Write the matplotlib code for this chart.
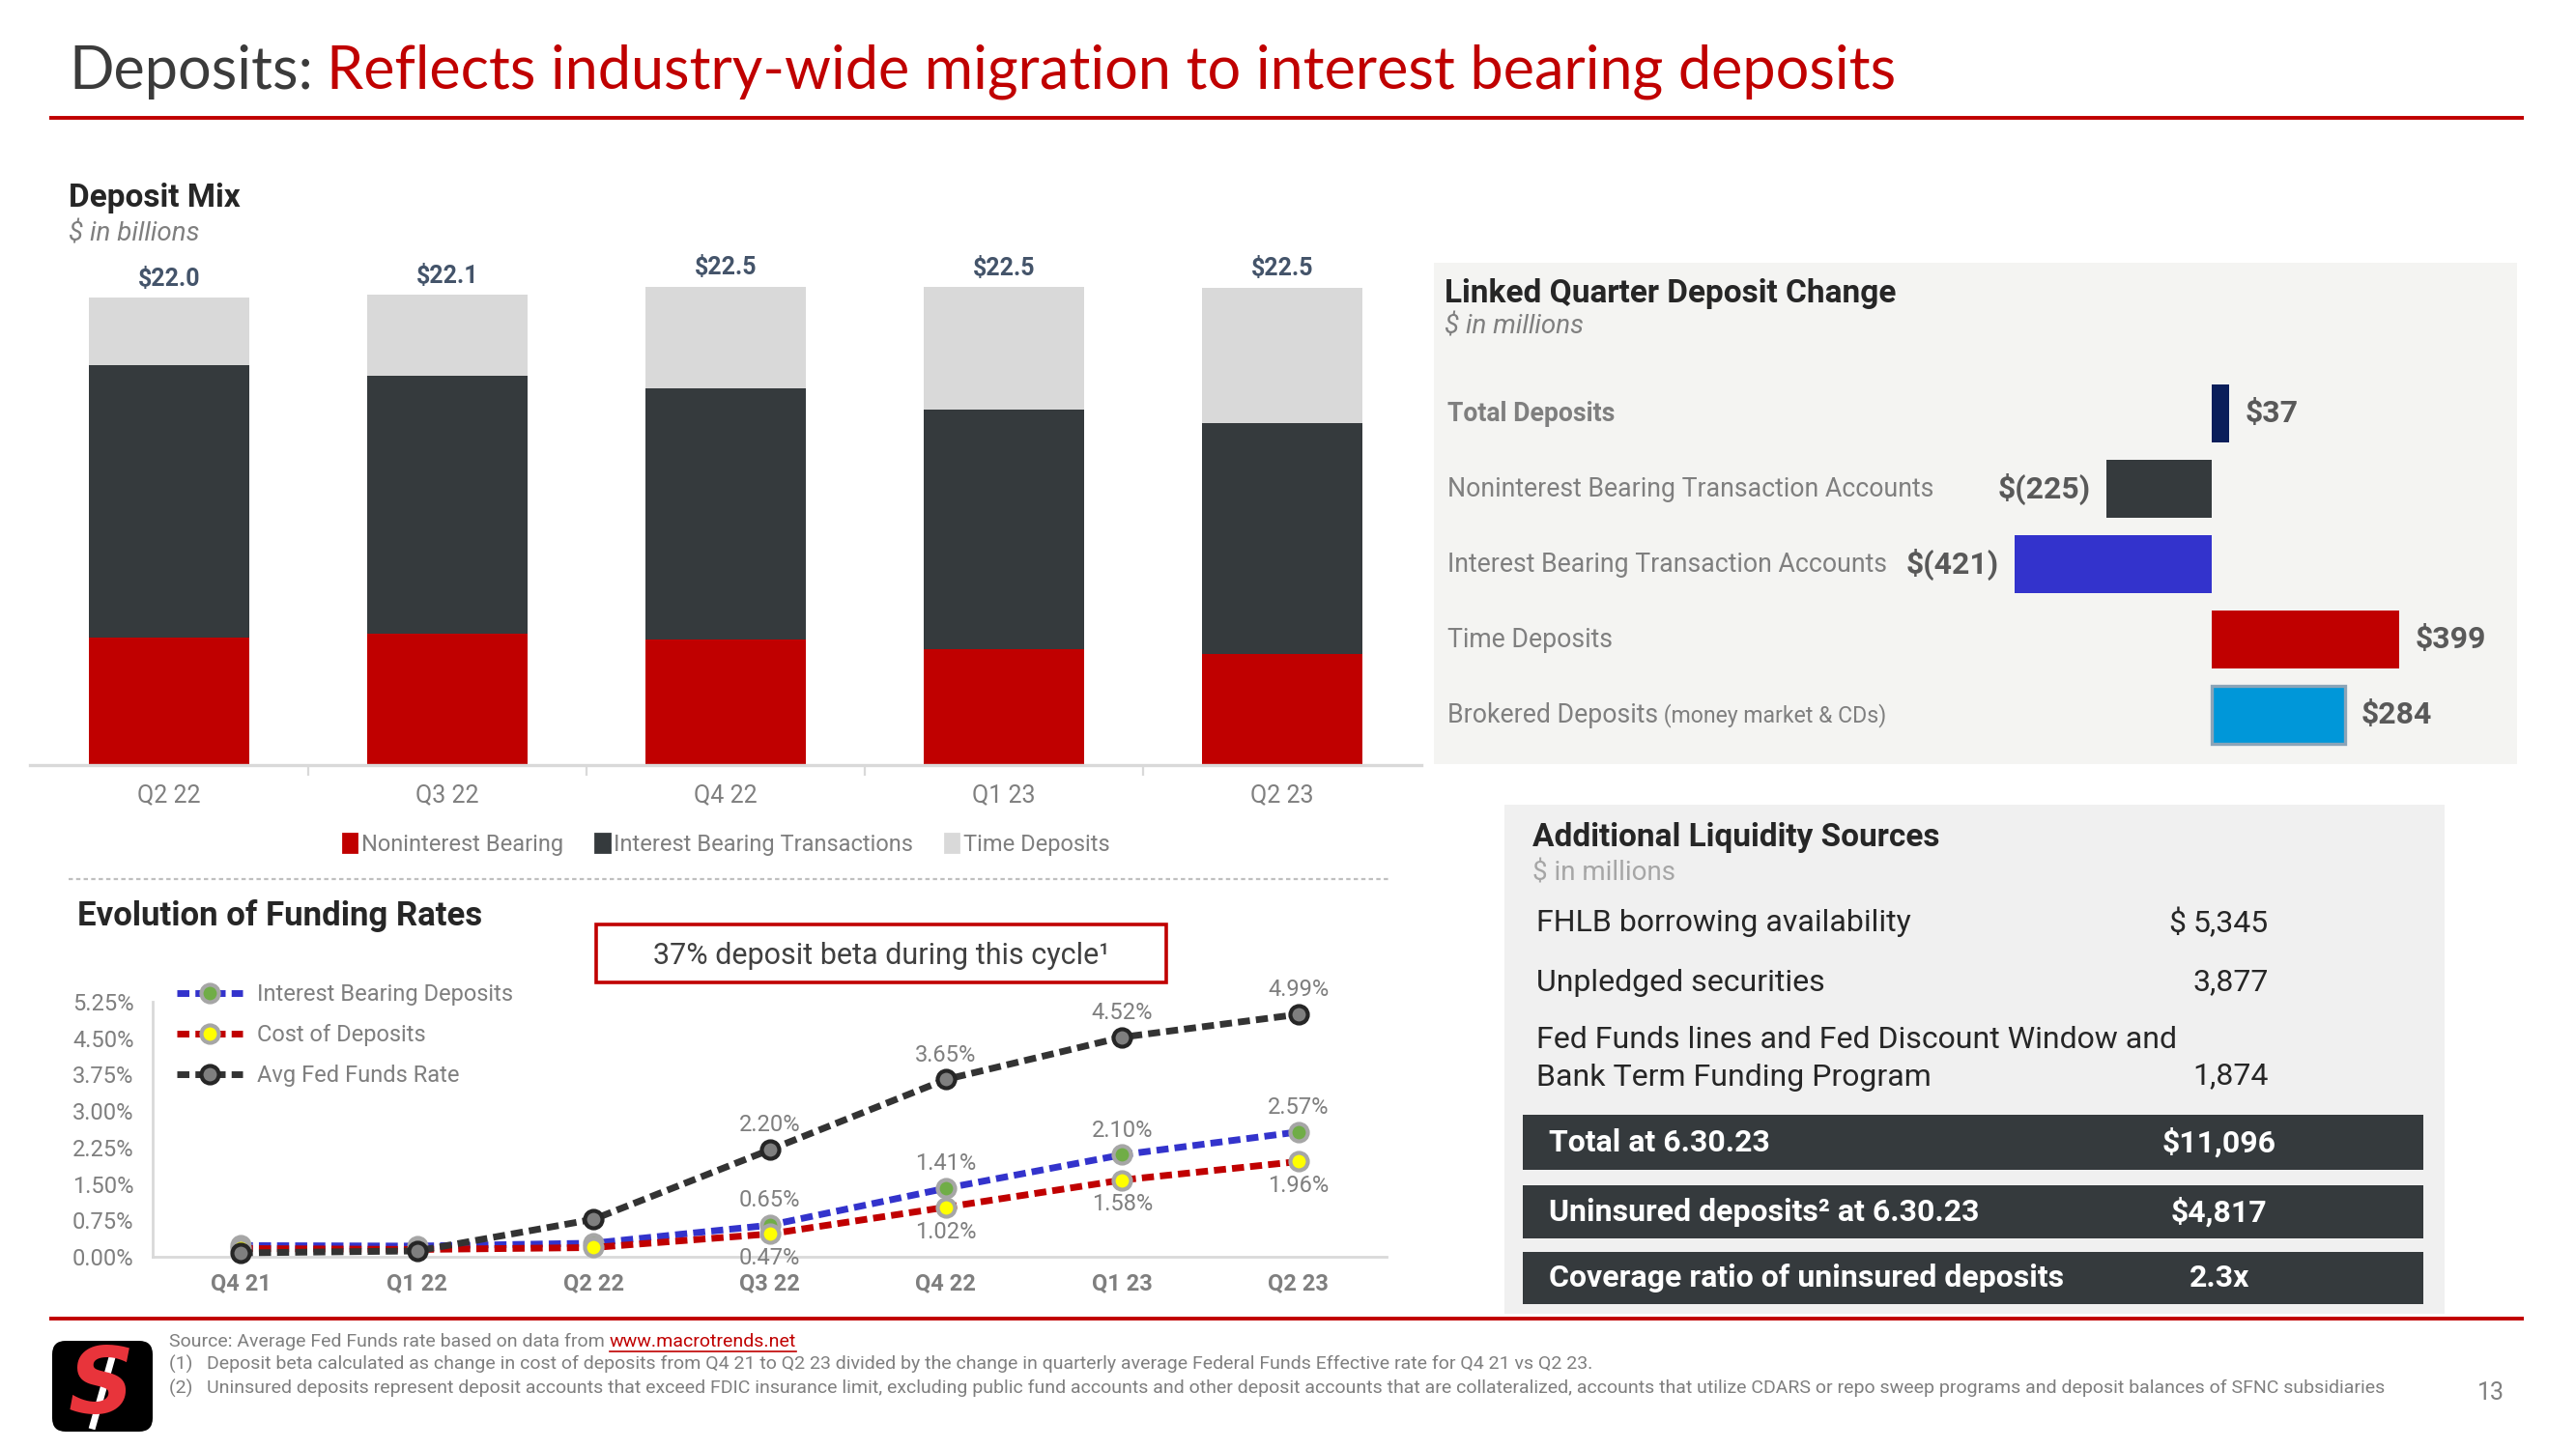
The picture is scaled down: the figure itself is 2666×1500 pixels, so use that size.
import matplotlib

matplotlib.use("Agg")
import matplotlib.pyplot as plt
from matplotlib import font_manager
from matplotlib.patches import FancyBboxPatch, Patch, Rectangle

W, H = 2666, 1500

# ---------------- data ----------------
quarters = ["Q2 22", "Q3 22", "Q4 22", "Q1 23", "Q2 23"]
noninterest = [6.02, 6.18, 5.93, 5.45, 5.22]
interest_txn = [12.82, 12.13, 11.80, 11.30, 10.87]
time_dep = [3.16, 3.81, 4.79, 5.75, 6.38]
totals = [22.0, 22.1, 22.5, 22.5, 22.5]

rate_quarters = ["Q4 21", "Q1 22", "Q2 22", "Q3 22", "Q4 22", "Q1 23", "Q2 23"]
ib_deposits = [0.23, 0.22, 0.28, 0.65, 1.41, 2.10, 2.57]
cost_deposits = [0.17, 0.15, 0.19, 0.47, 1.02, 1.58, 1.96]
fed_funds = [0.08, 0.12, 0.77, 2.20, 3.65, 4.52, 4.99]

change_labels = [
    "Total Deposits",
    "Noninterest Bearing Transaction Accounts",
    "Interest Bearing Transaction Accounts",
    "Time Deposits",
    "Brokered Deposits",
]
change_values = [37, -225, -421, 399, 284]
change_text = ["$37", "$(225)", "$(421)", "$399", "$284"]

liq_labels = [
    "FHLB borrowing availability",
    "Unpledged securities",
    "Fed Funds lines and Fed Discount Window and\nBank Term Funding Program",
]
liq_values = ["5,345", "3,877", "1,874"]
summary_labels = ["Total at 6.30.23", "Uninsured deposits² at 6.30.23",
                  "Coverage ratio of uninsured deposits"]
summary_values = ["$11,096", "$4,817", "2.3x"]

# ---------------- style ----------------
names = {f.name for f in font_manager.fontManager.ttflist}
NARROW = "Liberation Sans Narrow" if "Liberation Sans Narrow" in names else "Roboto"
TITLE_FONT = "Lato"
plt.rcParams["font.family"] = [NARROW, "DejaVu Sans"]

RED = "#c00000"
DARK = "#353a3d"
LIGHT = "#d9d9d9"
GRAY = "#7f7f7f"
TXT = "#404040"


def rect(x0, y0, x1, y1):
    """pixel box (top-left origin) -> figure fraction rect"""
    return [x0 / W, 1 - y1 / H, (x1 - x0) / W, (y1 - y0) / H]


fig = plt.figure(figsize=(W / 200, H / 200), dpi=200, facecolor="white")

# overlay in pixel coordinates for the slide furniture
ov = fig.add_axes([0, 0, 1, 1])
ov.set_xlim(0, W)
ov.set_ylim(H, 0)
ov.axis("off")

t1 = ov.text(71, 103, "Deposits:", fontsize=22, color="#3b3b3b",
             family=TITLE_FONT, va="bottom", ha="left")
ov.annotate("Reflects industry-wide migration to interest bearing deposits",
            xy=(1, 0), xycoords=t1, xytext=(5, 0), textcoords="offset points",
            fontsize=22, color=RED, family=TITLE_FONT, va="bottom", ha="left")
ov.plot([51, 2612], [122, 122], color=RED, lw=1.4, solid_capstyle="butt")
ov.plot([51, 2612], [1365, 1365], color=RED, lw=1.4, solid_capstyle="butt")

# section headers
ov.text(71, 205, "Deposit Mix", fontsize=12, fontweight="bold", color="#262626", va="center")
ov.text(71, 242, "$ in billions", fontsize=10, style="italic", color=GRAY, va="center")
ov.plot([71, 1437], [910, 910], color="#bfbfbf", lw=0.8, ls=(0, (2, 1.5)))
ov.text(80, 948, "Evolution of Funding Rates", fontsize=12.5, fontweight="bold",
        color="#262626", va="center")
ov.add_patch(Rectangle((617, 957), 590, 60, fill=False, ec=RED, lw=1.3))
ov.text(912, 990, "37% deposit beta during this cycle¹", fontsize=11, color=TXT,
        ha="center", va="center")

# linked quarter panel
ov.add_patch(Rectangle((1484, 272), 1121, 519, fc="#f4f4f2", ec="none"))
ov.text(1495, 304, "Linked Quarter Deposit Change", fontsize=12, fontweight="bold",
        color="#262626", va="center")
ov.text(1495, 339, "$ in millions", fontsize=10, style="italic", color=GRAY, va="center")

# liquidity panel
ov.add_patch(Rectangle((1557, 833), 973, 527, fc="#f0f0f0", ec="none"))
ov.text(1586, 867, "Additional Liquidity Sources", fontsize=12, fontweight="bold",
        color="#262626", va="center")
ov.text(1586, 904, "$ in millions", fontsize=10, color="#a6a6a6", va="center")
ov.text(1590, 956, liq_labels[0], fontsize=11.5, color="#262626", va="center")
ov.text(1590, 1017, liq_labels[1], fontsize=11.5, color="#262626", va="center")
ov.text(1590, 1096, liq_labels[2], fontsize=11.5, color="#262626", va="center",
        linespacing=1.45)
ov.text(2244, 956, "$", fontsize=11.5, color="#262626", va="center", ha="left")
for val, y in zip(liq_values, [956, 1017, 1114]):
    ov.text(2348, y, val, fontsize=11.5, color="#262626", va="center", ha="right")

box_y = [(1154, 1211), (1227, 1282), (1296, 1350)]
for (y0, y1), lab, val in zip(box_y, summary_labels, summary_values):
    ov.add_patch(Rectangle((1576, y0), 932, y1 - y0, fc=DARK, ec="none"))
    ov.text(1603, (y0 + y1) / 2, lab, fontsize=11.5, fontweight="bold", color="white", va="center")
    ov.text(2297, (y0 + y1) / 2, val, fontsize=11.5, fontweight="bold", color="white",
            va="center", ha="center")

# footer
ov.add_patch(FancyBboxPatch((54, 1388), 104, 94, boxstyle="round,pad=0,rounding_size=14",
                            fc="black", ec="none"))
ov.text(105, 1437, "S", fontsize=34, fontweight="bold", style="italic", color="#e8343b",
        ha="center", va="center", family="DejaVu Sans")
ov.plot([96, 118], [1476, 1398], color="white", lw=2.5)
src = ov.text(175, 1389, "Source: Average Fed Funds rate based on data from ",
              fontsize=7, color=GRAY, va="center")
link = ov.annotate("www.macrotrends.net", xy=(1, 0.5), xycoords=src, fontsize=7,
                   color=RED, va="center", ha="left")
ov.text(175, 1412, "(1)   Deposit beta calculated as change in cost of deposits from Q4 21 to Q2 23 "
        "divided by the change in quarterly average Federal Funds Effective rate for Q4 21 vs Q2 23.",
        fontsize=7, color=GRAY, va="center")
ov.text(175, 1437, "(2)   Uninsured deposits represent deposit accounts that exceed FDIC insurance limit, "
        "excluding public fund accounts and other deposit accounts that are collateralized, accounts "
        "that utilize CDARS or repo sweep programs and deposit balances of SFNC subsidiaries",
        fontsize=7, color=GRAY, va="center")
ov.text(2578, 1442, "13", fontsize=9, color=GRAY, va="center", ha="center")

# ---------------- deposit mix ----------------
ax1 = fig.add_axes(rect(31, 242, 1471, 792))
ax1.set_facecolor("none")
x = range(len(quarters))
bw = 0.573
ax1.bar(x, noninterest, bw, color=RED, label="Noninterest Bearing")
ax1.bar(x, interest_txn, bw, bottom=noninterest, color=DARK, label="Interest Bearing Transactions")
bottoms = [a + b for a, b in zip(noninterest, interest_txn)]
ax1.bar(x, time_dep, bw, bottom=bottoms, color=LIGHT, label="Time Deposits")
for i, t in enumerate(totals):
    top = bottoms[i] + time_dep[i]
    ax1.annotate(f"${t:.1f}", (i, top), xytext=(0, 7), textcoords="offset points",
                 ha="center", va="center", fontsize=9, fontweight="bold", color="#44546a")
ax1.set_xlim(-0.5, 4.5)
ax1.set_ylim(0, 25)
ax1.set_xticks(list(x))
ax1.set_xticklabels(quarters)
ax1.set_xticks([0.5, 1.5, 2.5, 3.5], minor=True)
ax1.tick_params(axis="x", which="major", length=0, labelsize=9, labelcolor=GRAY, pad=7)
ax1.tick_params(axis="x", which="minor", length=4, color=LIGHT, width=0.8)
ax1.set_yticks([])
for s in ("left", "right", "top"):
    ax1.spines[s].set_visible(False)
ax1.spines["bottom"].set_color(LIGHT)
ax1.spines["bottom"].set_linewidth(1.2)
fig.legend(handles=[Patch(color=RED, label="Noninterest Bearing"),
                    Patch(color=DARK, label="Interest Bearing Transactions"),
                    Patch(color=LIGHT, label="Time Deposits")],
           loc="center", bbox_to_anchor=(752 / W, 1 - 874 / H), ncol=3, frameon=False,
           fontsize=8.5, labelcolor=GRAY, handlelength=0.6, handleheight=0.9,
           handletextpad=0.2, columnspacing=1.4)

# ---------------- funding rates ----------------
ax2 = fig.add_axes(rect(158, 1037, 1435, 1301))
ax2.set_facecolor("none")
xr = range(len(rate_quarters))
series = [
    (ib_deposits, "#3333cc", "#70ad47", "#a6a6a6", "Interest Bearing Deposits"),
    (cost_deposits, RED, "#ffff00", "#a6a6a6", "Cost of Deposits"),
    (fed_funds, "#333333", "#7f7f7f", "#262626", "Avg Fed Funds Rate"),
]
for vals, lc, mfc, mec, lab in series:
    ax2.plot(xr, vals, color=lc, lw=2.5, dashes=(1.8, 0.9), marker="o", ms=6.5,
             mfc=mfc, mec=mec, mew=1.5, label=lab, clip_on=False, zorder=3)
for i in range(3, 7):
    ax2.annotate(f"{fed_funds[i]:.2f}%", (i, fed_funds[i]), xytext=(0, 5), textcoords="offset points",
                 ha="center", va="bottom", fontsize=8.5, color=GRAY)
    ax2.annotate(f"{ib_deposits[i]:.2f}%", (i, ib_deposits[i]), xytext=(0, 5), textcoords="offset points",
                 ha="center", va="bottom", fontsize=8.5, color=GRAY)
    ax2.annotate(f"{cost_deposits[i]:.2f}%", (i, cost_deposits[i]), xytext=(0, -5), textcoords="offset points",
                 ha="center", va="top", fontsize=8.5, color=GRAY)
ax2.set_xlim(-0.5, 6.5)
ax2.set_ylim(0, 5.25)
ax2.set_xticks(list(xr))
ax2.set_xticklabels(rate_quarters, fontweight="bold")
ax2.set_yticks([0, 0.75, 1.5, 2.25, 3.0, 3.75, 4.5, 5.25])
ax2.set_yticklabels([f"{v:.2f}%" for v in ax2.get_yticks()])
ax2.tick_params(axis="x", length=0, labelsize=8.5, labelcolor=GRAY, pad=6)
ax2.tick_params(axis="y", length=0, labelsize=8.5, labelcolor=GRAY, pad=7)
for s in ("right", "top"):
    ax2.spines[s].set_visible(False)
for s in ("left", "bottom"):
    ax2.spines[s].set_color(LIGHT)
    ax2.spines[s].set_linewidth(1.0)
ax2.legend(loc="upper left", bbox_to_anchor=(183 / W, 1 - 1018 / H), bbox_transform=fig.transFigure,
           frameon=False, fontsize=8.5, labelcolor=GRAY, handlelength=2.9, handletextpad=0.6,
           labelspacing=0.8, borderaxespad=0, borderpad=0)

# ---------------- linked quarter change ----------------
ax3 = fig.add_axes(rect(1484, 272, 2605, 791))
ax3.set_facecolor("none")
ax3.axis("off")
ax3.set_xlim(-1660, 651)
ax3.set_ylim(4.65, -2.0)
colors = ["#0b1f5b", DARK, "#3333cc", RED, "#0097d9"]
yr = range(len(change_values))
bars = ax3.barh(yr, change_values, height=0.77, color=colors)
bars[4].set_edgecolor("#8aa4b8")
bars[4].set_linewidth(1.2)
for i, (v, s) in enumerate(zip(change_values, change_text)):
    off = 6 if v > 0 else -6
    ax3.annotate(s, (v, i), xytext=(off, 0), textcoords="offset points",
                 ha="left" if v > 0 else "right", va="center", fontsize=11.5,
                 fontweight="bold", color="#595959")
lx = (1498 - 1484) / 1121
for i, lab in enumerate(change_labels):
    t = ax3.text(lx, i, lab, transform=ax3.get_yaxis_transform(), fontsize=9.6, color=GRAY,
                 va="center", ha="left", fontweight="bold" if i == 0 else "normal")
    if i == 4:
        ax3.annotate(" (money market & CDs)", xy=(1, 0.5), xycoords=t, fontsize=8.3,
                     color=GRAY, va="center", ha="left")

# underline the link
fig.canvas.draw()
bb = link.get_window_extent()
ov.plot([bb.x0, bb.x1], [H - bb.y0 + 1, H - bb.y0 + 1], color=RED, lw=0.6)

fig.savefig("out.png", dpi=200, facecolor="white")
